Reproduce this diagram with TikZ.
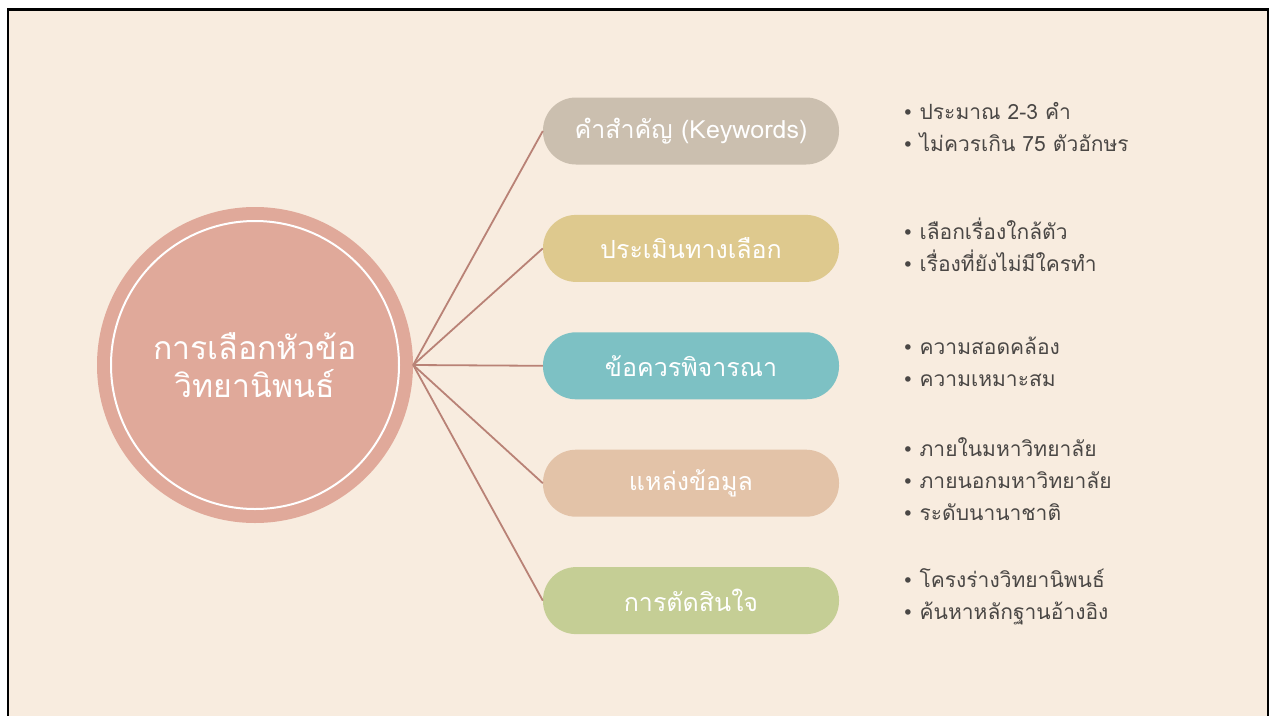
\documentclass[tikz,border=0pt]{standalone}
\usepackage{fontspec}
\newfontfamily\thaifont[Script=Thai]{Loma}
\newfontfamily\symfont{DejaVu Sans}
\usepackage{xcolor}
\usetikzlibrary{positioning}
\definecolor{bgbeige}{HTML}{F8ECDF}
\definecolor{topicrose}{HTML}{E0A99A}
\definecolor{kwgray}{HTML}{CBBFAF}
\definecolor{evalgold}{HTML}{DEC98E}
\definecolor{consteal}{HTML}{7DC1C4}
\definecolor{srcpeach}{HTML}{E3C3A8}
\definecolor{decgreen}{HTML}{C5CE95}
\definecolor{linkbrown}{HTML}{B98276}
\definecolor{notegray}{HTML}{4A4745}
\newcommand{\notebullet}{{\symfont\fontsize{19}{32}\selectfont •}\hspace{6pt}}

\begin{document}
\begin{tikzpicture}[x=1pt, y=-1pt,
    node distance=50pt,
    pill/.style={rounded corners=33pt, minimum width=296pt, minimum height=67pt, inner sep=0pt,
                 text=white, font=\thaifont\fontsize{25}{28}\selectfont},
    notes/.style={align=left, inner sep=0pt, text=notegray, font=\thaifont\fontsize{21}{32}\selectfont},
    link/.style={draw=linkbrown, line width=1.8pt}
  ]
  \useasboundingbox (0,0) rectangle (1274,715);
  \clip (0,0) rectangle (1274,715);
  \fill[white] (0,0) rectangle (1274,715);
  \fill[bgbeige] (8,9) rectangle (1268,720);
  \draw[black, line width=2.5pt] (8,720) -- (8,9.5) -- (1268,9.5) -- (1268,720);

  % centre topic
  \node[circle, fill=topicrose, minimum size=316pt, inner sep=0pt, align=center, text=white,
        font=\thaifont\fontsize{32}{38}\selectfont] (topic) at (255,365) {การเลือกหัวข้อ\\วิทยานิพนธ์};
  \draw[white, line width=2pt] (topic.center) circle[radius=144pt];

  % branches
  \node[pill, fill=kwgray] (kw) at (691,131) {คำสำคัญ (Keywords)};
  \node[pill, fill=evalgold, below=of kw] (eval) {ประเมินทางเลือก};
  \node[pill, fill=consteal, below=of eval] (cons) {ข้อควรพิจารณา};
  \node[pill, fill=srcpeach, below=of cons] (src) {แหล่งข้อมูล};
  \node[pill, fill=decgreen, below=of src] (dec) {การตัดสินใจ};

  \foreach \b in {kw, eval, cons, src, dec}
    \draw[link] (topic.east) -- (\b.west);

  % notes
  \node[notes, right=63pt of kw, yshift=4pt] (kwnote) {\notebullet ประมาณ 2-3 คำ\\\notebullet ไม่ควรเกิน 75 ตัวอักษร};
  \node[notes, right=63pt of eval, yshift=4pt] (evalnote) {\notebullet เลือกเรื่องใกล้ตัว\\\notebullet เรื่องที่ยังไม่มีใครทำ};
  \node[notes, right=63pt of cons, yshift=4pt] (consnote) {\notebullet ความสอดคล้อง\\\notebullet ความเหมาะสม};
  \node[notes, right=63pt of src, yshift=4pt] (srcnote) {\notebullet ภายในมหาวิทยาลัย\\\notebullet ภายนอกมหาวิทยาลัย\\\notebullet ระดับนานาชาติ};
  \node[notes, right=63pt of dec, yshift=4pt] (decnote) {\notebullet โครงร่างวิทยานิพนธ์\\\notebullet ค้นหาหลักฐานอ้างอิง};
\end{tikzpicture}
\end{document}
